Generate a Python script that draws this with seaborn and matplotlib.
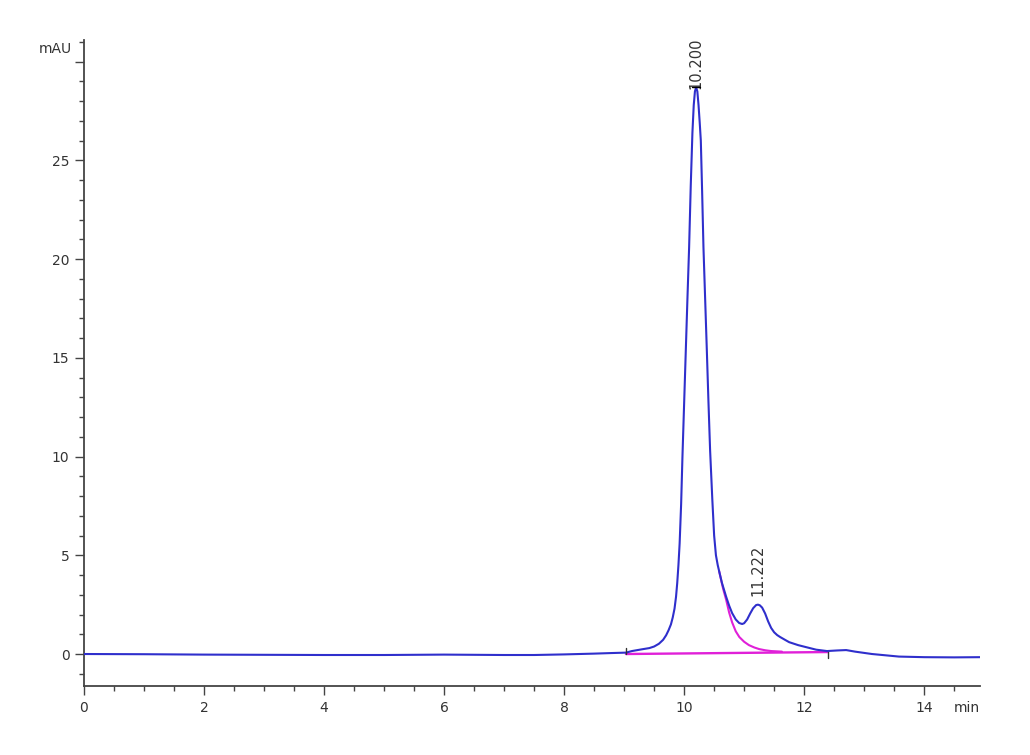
import matplotlib
matplotlib.use("Agg")
import matplotlib.pyplot as plt
import seaborn as sns
import numpy as np
import pandas as pd
from matplotlib.ticker import MultipleLocator, FixedLocator

# ---- data ----
time_min = [0.0, 1.0, 2.0, 3.0, 4.0, 5.0, 6.0, 7.0, 7.5, 8.0, 8.5, 8.8,
            9.03, 9.13, 9.3, 9.42, 9.5, 9.58, 9.65, 9.7, 9.74, 9.78, 9.81,
            9.84, 9.865, 9.885, 9.905, 9.925, 9.95, 9.972, 10.0, 10.028,
            10.055, 10.083, 10.11, 10.138, 10.16, 10.18, 10.2, 10.22, 10.24,
            10.26, 10.278, 10.3, 10.322, 10.35, 10.378, 10.405, 10.433,
            10.47, 10.5, 10.53, 10.56, 10.583, 10.63, 10.7, 10.75, 10.8,
            10.86, 10.917, 10.967, 11.0, 11.05, 11.1, 11.15, 11.2, 11.23,
            11.26, 11.3, 11.35, 11.4, 11.45, 11.5, 11.55, 11.6, 11.68, 11.75,
            11.9, 12.03, 12.2, 12.38, 12.55, 12.7, 12.85, 13.13, 13.58, 14.0,
            14.5, 14.93]
absorb_mau = [0.0, -0.01, -0.03, -0.04, -0.05, -0.05, -0.03, -0.05, -0.05,
              -0.02, 0.02, 0.05, 0.07, 0.15, 0.24, 0.3, 0.38, 0.52, 0.72,
              0.95, 1.2, 1.5, 1.85, 2.3, 2.9, 3.6, 4.5, 5.6, 7.6, 10.0, 12.7,
              15.4, 18.0, 20.6, 23.7, 26.4, 27.8, 28.5, 28.7, 28.5, 27.8,
              26.9, 26.0, 23.4, 20.6, 18.0, 15.4, 12.8, 10.3, 7.8, 6.0, 5.0,
              4.5, 4.2, 3.6, 2.9, 2.45, 2.07, 1.75, 1.57, 1.52, 1.56, 1.75,
              2.05, 2.32, 2.48, 2.5, 2.47, 2.35, 2.05, 1.65, 1.32, 1.1, 0.96,
              0.86, 0.72, 0.6, 0.45, 0.35, 0.22, 0.15, 0.18, 0.2, 0.12, 0.0,
              -0.13, -0.16, -0.17, -0.16]

tail_time = [10.583, 10.65, 10.7, 10.75, 10.8, 10.86, 10.92, 11.0, 11.08,
             11.17, 11.25, 11.35, 11.45, 11.63]
tail_mau = [4.2, 3.3, 2.75, 2.1, 1.6, 1.15, 0.86, 0.62, 0.45, 0.33, 0.25,
            0.19, 0.15, 0.12]

base_time = [9.03, 12.4]
base_mau = [0.0, 0.1]

peak_times = [10.200, 11.222]
peak_heights = [28.7, 2.5]
peak_labels = ["10.200", "11.222"]

x_ticks = [0, 2, 4, 6, 8, 10, 12, 14]
y_ticks = [0, 5, 10, 15, 20, 25, 30]
y_tick_labels = ["0", "5", "10", "15", "20", "25", ""]

# ---- figure ----
sns.set_style("ticks")
plt.rcParams["font.family"] = ["DejaVu Sans"]

fig = plt.figure(figsize=(10.30, 7.55), dpi=100)
ax = fig.add_axes([84 / 1030, 69 / 755, 896 / 1030, 646 / 755])

trace = pd.DataFrame({"t": time_min, "a": absorb_mau})
tail = pd.DataFrame({"t": tail_time, "a": tail_mau})
base = pd.DataFrame({"t": base_time, "a": base_mau})

sns.lineplot(data=base, x="t", y="a", ax=ax, color="#e020d8", lw=1.7,
             sort=False, estimator=None, zorder=2)
sns.lineplot(data=tail, x="t", y="a", ax=ax, color="#e020d8", lw=1.5,
             sort=False, estimator=None, zorder=2)
sns.lineplot(data=trace, x="t", y="a", ax=ax, color="#2f2fcc", lw=1.5,
             sort=False, estimator=None, zorder=3)

# integration marks
ax.plot([peak_times[0] - 0.07, peak_times[0] + 0.07],
        [peak_heights[0], peak_heights[0]], color="black", lw=1.0, zorder=4)
ax.plot([base_time[0], base_time[0]], [base_mau[0], base_mau[0] + 0.3],
        color="#333333", lw=1.0, zorder=4)
ax.plot([base_time[1], base_time[1]], [base_mau[1], base_mau[1] - 0.3],
        color="#333333", lw=1.0, zorder=4)

offsets = [-1, 6]
for t, h, lab, off in zip(peak_times, peak_heights, peak_labels, offsets):
    ax.annotate(lab, xy=(t, h), xytext=(0, off), textcoords="offset points",
                rotation=90, ha="center", va="bottom", fontsize=10.5,
                color="#333333", annotation_clip=False)

ax.set_xlim(0, 14.93)
ax.set_ylim(-1.62, 31.1)
ax.set_xlabel("")
ax.set_ylabel("")

ax.set_xticks(x_ticks)
ax.set_xticklabels([str(v) for v in x_ticks])
ax.xaxis.set_minor_locator(MultipleLocator(0.5))
ax.set_yticks(y_ticks)
ax.set_yticklabels(y_tick_labels)
ax.yaxis.set_minor_locator(MultipleLocator(1))

for s in ["top", "right"]:
    ax.spines[s].set_visible(False)
for s in ["left", "bottom"]:
    ax.spines[s].set_color("#444444")
    ax.spines[s].set_linewidth(1.3)

ax.tick_params(axis="both", which="major", length=6.5, width=1.0,
               color="#444444", labelsize=10, labelcolor="#333333", pad=4)
ax.tick_params(axis="both", which="minor", length=3.5, width=1.0,
               color="#444444")

ax.annotate("mAU", xy=(0, 0.986), xycoords="axes fraction", xytext=(-9, 0),
            textcoords="offset points", ha="right", va="center",
            fontsize=10, color="#333333")
ax.annotate("min", xy=(1.0, 0), xycoords="axes fraction", xytext=(0, -11),
            textcoords="offset points", ha="right", va="top",
            fontsize=10, color="#333333")

fig.savefig("out.png", dpi=100)
